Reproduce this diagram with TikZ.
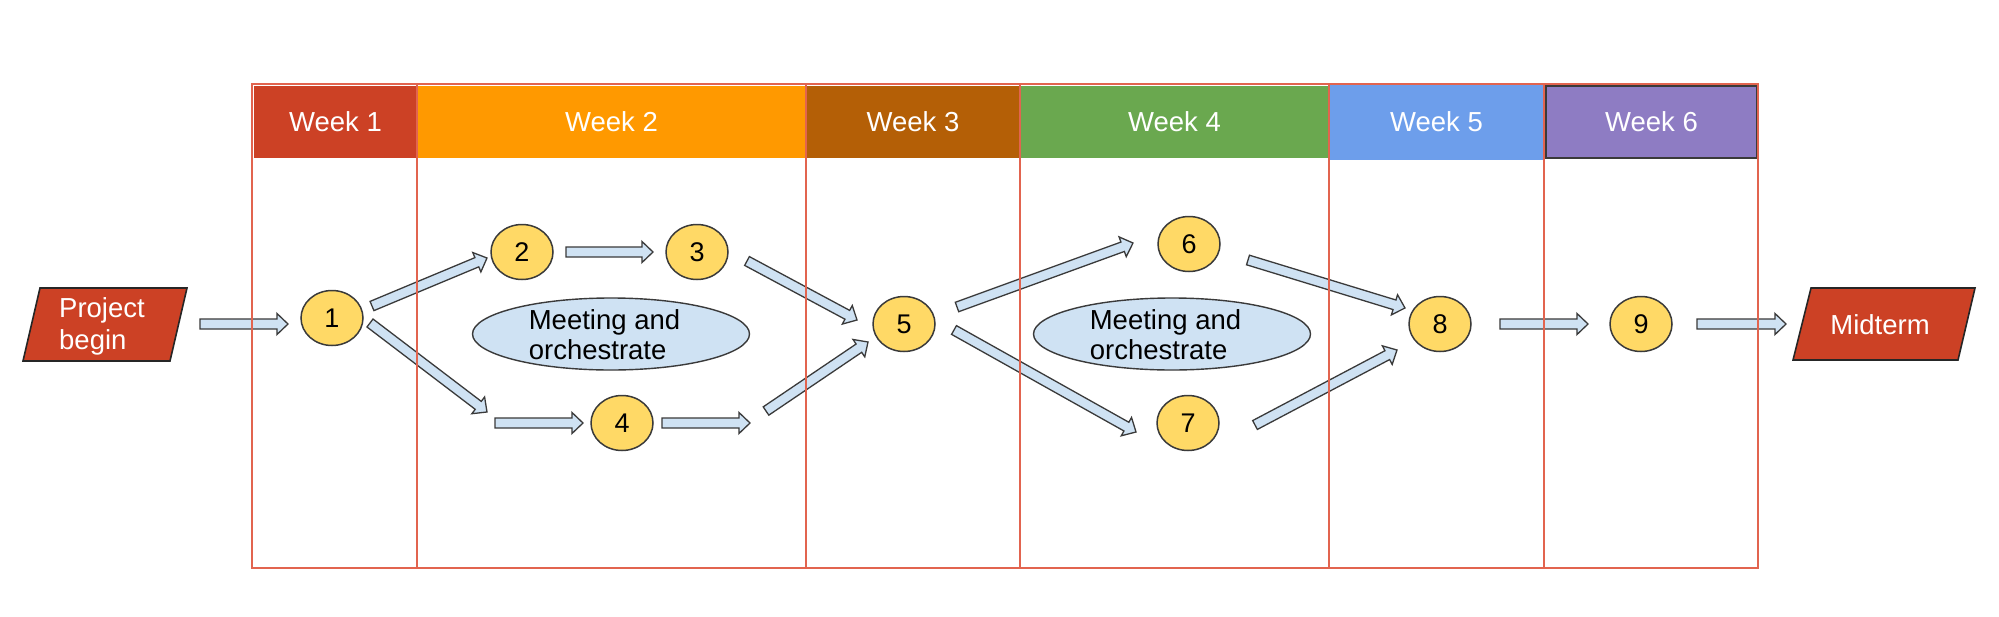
\documentclass[tikz,border=0pt]{standalone}
\usepackage{fontspec}
\setmainfont{Liberation Sans}
\usetikzlibrary{calc,shapes.geometric}
\definecolor{wkone}{HTML}{CC4125}
\definecolor{wktwo}{HTML}{FF9900}
\definecolor{wkthree}{HTML}{B45F06}
\definecolor{wkfour}{HTML}{6AA84F}
\definecolor{wkfive}{HTML}{6D9EEB}
\definecolor{wksix}{HTML}{8E7CC3}
\definecolor{nodefill}{HTML}{FFD966}
\definecolor{arrfill}{HTML}{CFE2F3}
\definecolor{outl}{HTML}{3A3A3A}
\definecolor{colline}{HTML}{E2644F}
\newcommand\barrow[2]{%
  \path[blockarr] let \p1=#1, \p2=#2,
    \n1={atan2(\y2-\y1,\x2-\x1)}, \n2={veclen(\x2-\x1,\y2-\y1)} in
    [shift={(\p1)}, rotate=\n1]
    (0pt,-5pt) -- ({\n2-11pt},-5pt) -- ({\n2-11pt},-10.5pt) -- (\n2,0pt)
    -- ({\n2-11pt},10.5pt) -- ({\n2-11pt},5pt) -- (0pt,5pt) -- cycle;}
\tikzset{
  hdr/.style={rectangle, inner sep=0pt, text=white, font=\fontsize{27.5}{31}\selectfont},
  evt/.style={ellipse, draw=outl, line width=1.5pt, fill=nodefill, minimum width=62pt,
    minimum height=55pt, inner sep=0pt, font=\fontsize{27}{31}\selectfont},
  meet/.style={ellipse, draw=outl, line width=1.4pt, fill=arrfill, minimum width=277pt,
    minimum height=72pt, inner sep=0pt},
  mtext/.style={align=left, inner sep=0pt, font=\fontsize{27.5}{30}\selectfont},
  ptext/.style={align=left, inner sep=0pt, text=white, font=\fontsize{27.5}{31.5}\selectfont},
  blockarr/.style={draw=outl, fill=arrfill, line width=1.3pt, line join=miter},
  colbox/.style={draw=colline, line width=1.6pt},
  para/.style={draw=black!85, fill=wkone, line width=1.6pt, line join=miter}
}
\begin{document}
\begin{tikzpicture}[x=1pt,y=-1pt]
\useasboundingbox[fill=white] (0,0) rectangle (1999,616);
% headers
\node[hdr, fill=wkone, minimum width=163pt, minimum height=72pt] (h1) at (335.5,122) {Week 1};
\node[hdr, fill=wktwo, minimum width=389pt, minimum height=72pt] (h2) at (611.5,122) {Week 2};
\node[hdr, fill=wkthree, minimum width=214pt, minimum height=72pt] (h3) at (913,122) {Week 3};
\node[hdr, fill=wkfour, minimum width=309pt, minimum height=72pt] (h4) at (1174.5,122) {Week 4};
\node[hdr, fill=wkfive, minimum width=215pt, minimum height=77pt] (h5) at (1436.5,121.5) {Week 5};
\node[hdr, fill=wksix, draw=outl, line width=1.6pt, minimum width=211pt, minimum height=72pt] (h6) at (1651.5,122) {Week 6};
% start / end parallelograms
\coordinate (pbc) at (102,324);
\draw[para] ($(pbc)+(-62,-36)$) -- ($(pbc)+(85,-36)$) -- ($(pbc)+(68,37)$) -- ($(pbc)+(-79,37)$) -- cycle;
\node[ptext] (PB) at ($(pbc)+(0,2.5)$) {Project\\begin};
\coordinate (mtc) at (1884,324);
\draw[para] ($(mtc)+(-73,-36)$) -- ($(mtc)+(91,-36)$) -- ($(mtc)+(74,36)$) -- ($(mtc)+(-91,36)$) -- cycle;
\node[ptext] (MT) at (1880,325) {Midterm};
% meeting ellipses
\node[meet] (m1) at (611,334) {};
\node[mtext] (m1t) at ($(m1)+(-6.5,1)$) {Meeting and\\orchestrate};
\node[meet] (m2) at (1172,334) {};
\node[mtext] (m2t) at ($(m2)+(-6.5,1)$) {Meeting and\\orchestrate};
% events
\node[evt] (n1) at (332,318) {1};
\node[evt] (n2) at (522,252) {2};
\node[evt] (n3) at (697,252) {3};
\node[evt] (n4) at (622,423) {4};
\node[evt] (n5) at (904,324) {5};
\node[evt] (n6) at (1189,244) {6};
\node[evt] (n7) at (1188,423) {7};
\node[evt] (n8) at (1440,324) {8};
\node[evt] (n9) at (1641,324) {9};
\coordinate (k1) at (487,412);
\coordinate (k2) at (495,423);
\coordinate (k3) at (750,423);
\coordinate (k4) at (766,411);
% arrows
\barrow{($(PB)+(98,-2.5)$)}{($(n1)+(-44,6)$)}
\barrow{($(n1)+(40,-12)$)}{($(n2)+(-35,6)$)}
\barrow{($(n2)+(44,0)$)}{($(n3)+(-44,0)$)}
\barrow{($(n1)+(38,5)$)}{(k1)}
\barrow{(k2)}{($(n4)+(-39,0)$)}
\barrow{($(n4)+(40,0)$)}{(k3)}
\barrow{(k4)}{($(n5)+(-36,18)$)}
\barrow{($(n3)+(50,9)$)}{($(n5)+(-47,-4)$)}
\barrow{($(n5)+(53,-17)$)}{($(n6)+(-56,-1)$)}
\barrow{($(n5)+(50,6)$)}{($(n7)+(-52,9)$)}
\barrow{($(n6)+(59,16)$)}{($(n8)+(-35,-16)$)}
\barrow{($(n7)+(67,2)$)}{($(n8)+(-43,26)$)}
\barrow{($(n8)+(60,0)$)}{($(n9)+(-53,0)$)}
\barrow{($(n9)+(56,0)$)}{($(MT)+(-94,-1)$)}
% week columns
\draw[colbox] (252,84) rectangle (417,568);
\draw[colbox] (417,84) rectangle (806,568);
\draw[colbox] (806,84) rectangle (1020,568);
\draw[colbox] (1020,84) rectangle (1329,568);
\draw[colbox] (1329,84) rectangle (1544,568);
\draw[colbox] (1544,84) rectangle (1758,568);
\end{tikzpicture}
\end{document}
